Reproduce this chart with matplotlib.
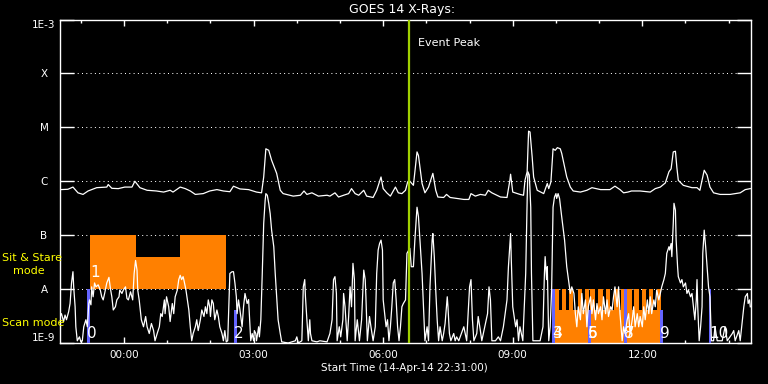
import matplotlib
matplotlib.use("Agg")
import matplotlib.pyplot as plt
import matplotlib.dates as mdates
import numpy as np
from datetime import datetime

# ---------------- data ----------------
start_time = datetime(2014, 4, 14, 22, 31)
span_minutes = 960
event_peak = datetime(2014, 4, 15, 6, 36)

# GOES long channel (1-8 A): (minutes after start, flux W/m^2)
long_pts = [(1,7.0e-7),(11,7.1e-7),(18,7.8e-7),(25,6.1e-7),(32,5.7e-7),(39,6.6e-7),(51,7.6e-7),(65,7.8e-7),(67,8.7e-7),(72,7.4e-7),(81,7.3e-7),(90,7.8e-7),(100,7.8e-7),(104,1.0e-6),(111,7.6e-7),(121,6.8e-7),(134,6.6e-7),(144,6.3e-7),(153,6.8e-7),(157,6.3e-7),(167,7.8e-7),(174,7.3e-7),(181,6.6e-7),(188,5.7e-7),(199,5.9e-7),(208,6.6e-7),(218,7.0e-7),(227,6.6e-7),(236,6.4e-7),(241,8.1e-7),(250,7.2e-7),(262,7.0e-7),(273,6.3e-7),(280,6.1e-7),(283,1.2e-6),(286,4.0e-6),(290,3.75e-6),(294,2.45e-6),(301,1.4e-6),(306,6.8e-7),(310,5.9e-7),(324,5.3e-7),(334,5.5e-7),(339,6.6e-7),(343,5.7e-7),(350,6.1e-7),(359,5.3e-7),(371,5.5e-7),(375,5.3e-7),(382,6.1e-7),(387,5.1e-7),(394,5.5e-7),(401,5.9e-7),(405,7.3e-7),(410,5.9e-7),(415,5.5e-7),(422,6.8e-7),(426,5.3e-7),(435,5.0e-7),(440,6.8e-7),(446,1.2e-6),(449,7.3e-7),(454,6.1e-7),(459,5.3e-7),(466,7.8e-7),(470,6.1e-7),(475,5.9e-7),(480,6.8e-7),(483,9.7e-7),(485,1.04e-6),(491,8.4e-7),(496,3.5e-6),(498,3.0e-6),(503,9.1e-7),(507,6.1e-7),(512,7.8e-7),(518,1.4e-6),(522,6.8e-7),(525,5.1e-7),(533,5.0e-7),(537,5.7e-7),(542,5.0e-7),(551,4.8e-7),(561,4.6e-7),(568,4.6e-7),(571,5.9e-7),(577,5.3e-7),(584,5.7e-7),(591,5.5e-7),(595,6.8e-7),(600,6.1e-7),(612,5.1e-7),(621,5.0e-7),(625,1.04e-6),(626,1.35e-6),(629,6.3e-7),(639,5.7e-7),(644,5.5e-7),(646,1.04e-6),(649,1.5e-6),(651,8.5e-6),(653,8.2e-6),(656,2.8e-6),(658,1.2e-6),(663,6.8e-7),(672,5.9e-7),(677,9.1e-7),(679,7.3e-7),(682,9.7e-7),(685,4.0e-6),(688,3.75e-6),(691,4.2e-6),(695,4.0e-6),(697,3.3e-6),(704,1.2e-6),(709,7.8e-7),(713,6.6e-7),(723,6.3e-7),(732,6.8e-7),(739,7.6e-7),(751,7.0e-7),(764,7.0e-7),(771,8.1e-7),(778,7.0e-7),(783,6.1e-7),(789,6.3e-7),(794,6.6e-7),(806,6.6e-7),(820,6.3e-7),(827,7.3e-7),(834,7.8e-7),(841,9.3e-7),(846,1.5e-6),(849,1.7e-6),(852,3.5e-6),(855,3.6e-6),(857,1.8e-6),(859,1.04e-6),(866,8.4e-7),(878,7.6e-7),(885,7.6e-7),(889,6.8e-7),(892,1.04e-6),(895,1.6e-6),(899,1.3e-6),(903,7.8e-7),(908,6.1e-7),(917,5.7e-7),(931,5.7e-7),(945,6.1e-7),(952,7.0e-7),(959,7.3e-7)]

# GOES short channel (0.5-4 A): (minutes after start, flux W/m^2)
short_pts = [(0,3.1e-9),(2,3.5e-9),(5,2.5e-9),(7,3.3e-9),(9,2.7e-9),(12,3.8e-9),(14,5.4e-9),(16,1.3e-8),(18,2.1e-8),(19,1.1e-8),(21,4.7e-9),(22,2.0e-9),(24,1.1e-9),(27,1.3e-9),(29,1.05e-9),(31,1.1e-9),(33,2.0e-9),(36,2.7e-9),(38,2.0e-9),(40,5.4e-9),(41,6.3e-9),(43,5.1e-9),(44,1.1e-8),(46,7.2e-9),(48,1.3e-8),(50,1.1e-8),(53,1.2e-8),(56,9.6e-9),(58,7.2e-9),(60,6.3e-9),(62,8.3e-9),(65,1.3e-8),(68,1.65e-8),(70,1.03e-8),(72,7.2e-9),(74,4.1e-9),(77,4.7e-9),(79,6.3e-9),(82,7.2e-9),(83,9.6e-9),(86,8.3e-9),(88,9.6e-9),(91,1.1e-8),(93,6.7e-9),(95,6.3e-9),(98,8.9e-9),(101,6.3e-9),(103,1.95e-8),(105,3.4e-8),(107,2.25e-8),(108,9.6e-9),(110,6.3e-9),(113,2.7e-9),(116,2.0e-9),(119,3.1e-9),(121,2.0e-9),(124,1.5e-9),(127,2.3e-9),(130,1.7e-9),(132,1.1e-9),(135,1.5e-9),(138,2.0e-9),(140,3.5e-9),(142,3.1e-9),(145,6.3e-9),(146,3.5e-9),(148,7.2e-9),(151,4.7e-9),(153,2.5e-9),(156,5.4e-9),(158,3.5e-9),(160,7.2e-9),(163,9.6e-9),(165,1.5e-8),(167,1.8e-8),(169,1.5e-8),(171,1.7e-8),(172,1.5e-8),(175,9.6e-9),(177,6.3e-9),(179,4.1e-9),(181,2.0e-9),(183,1.1e-9),(185,1.5e-9),(188,2.0e-9),(190,2.7e-9),(192,1.7e-9),(195,2.7e-9),(197,4.1e-9),(200,3.1e-9),(202,4.7e-9),(204,3.5e-9),(206,6.3e-9),(208,4.7e-9),(209,3.1e-9),(211,6.3e-9),(213,5.4e-9),(215,2.7e-9),(218,4.1e-9),(220,3.1e-9),(222,2.0e-9),(225,1.5e-9),(227,1.1e-9),(229,1.7e-9),(231,1.05e-9),(233,1.1e-9),(236,1.95e-8),(239,2.1e-8),(241,2.1e-8),(243,1.3e-8),(245,7.2e-9),(246,3.5e-9),(248,6.3e-9),(250,4.1e-9),(253,2.0e-9),(255,4.7e-9),(257,8.3e-9),(259,6.3e-9),(260,5.4e-9),(262,6.4e-9),(263,3.5e-9),(265,1.1e-9),(267,1.5e-9),(269,1.1e-9),(270,1.7e-9),(272,1.5e-9),(273,1.1e-9),(276,2.0e-9),(277,1.3e-9),(279,2.7e-9),(281,1.95e-8),(283,1.65e-7),(285,4.4e-7),(286,5.9e-7),(288,5.5e-7),(290,3.9e-7),(292,2.5e-7),(294,1.24e-7),(297,6.1e-8),(299,1.95e-8),(301,7.2e-9),(303,2.7e-9),(306,1.5e-9),(308,1.05e-9),(317,1.0e-9),(327,1.1e-9),(329,1.3e-9),(331,1.0e-9),(336,1.1e-9),(338,1.1e-8),(340,1.5e-8),(341,7.2e-9),(343,2.7e-9),(345,1.1e-9),(347,2.7e-9),(348,1.5e-9),(350,1.1e-9),(357,1.05e-9),(361,1.1e-9),(371,1.05e-9),(375,1.5e-9),(378,2.7e-9),(380,1.5e-8),(382,1.7e-8),(384,8.3e-9),(385,1.1e-9),(388,2.0e-9),(390,1.3e-9),(393,2.7e-9),(394,8.3e-9),(396,4.7e-9),(399,1.1e-9),(401,3.1e-9),(403,1.1e-8),(405,4.7e-9),(407,3.0e-8),(409,1.5e-8),(410,1.1e-9),(413,2.7e-9),(416,1.1e-9),(419,2.7e-9),(422,2.25e-8),(424,1.5e-8),(425,7.2e-9),(427,1.1e-9),(430,3.1e-9),(432,2.0e-9),(435,1.1e-9),(438,2.0e-9),(440,1.95e-8),(442,5.3e-8),(444,7.0e-8),(446,8.1e-8),(448,5.3e-8),(449,6.3e-9),(451,3.5e-9),(453,2.0e-9),(455,2.7e-9),(457,1.1e-9),(459,2.0e-9),(461,4.7e-9),(463,1.3e-8),(465,1.5e-8),(467,6.3e-9),(469,2.0e-9),(471,1.1e-9),(473,2.0e-9),(475,4.7e-9),(477,5.4e-9),(480,6.3e-9),(482,4.6e-8),(486,5.7e-8),(488,2.6e-8),(491,2.6e-8),(493,8.1e-8),(496,3.3e-7),(498,2.2e-7),(500,8.1e-8),(503,1.95e-8),(505,4.7e-9),(507,1.1e-9),(510,2.0e-9),(512,1.1e-9),(514,1.1e-8),(517,8.1e-8),(518,1.07e-7),(520,4.0e-8),(522,9.6e-9),(524,2.7e-9),(526,1.1e-9),(528,2.0e-9),(531,1.1e-9),(533,1.5e-9),(535,2.3e-9),(538,7.2e-9),(539,4.7e-9),(541,1.5e-9),(543,1.1e-9),(547,1.5e-9),(549,1.1e-9),(551,1.3e-9),(554,1.1e-9),(561,2.0e-9),(565,1.1e-9),(569,1.1e-8),(571,1.5e-8),(573,2.7e-9),(575,1.1e-9),(579,1.5e-9),(581,3.1e-9),(584,1.7e-9),(586,1.1e-9),(594,3.5e-9),(596,1.1e-8),(598,6.3e-9),(600,1.1e-9),(605,1.1e-9),(609,1.3e-9),(612,1.1e-9),(616,2.0e-9),(621,6.3e-9),(623,2.6e-8),(626,1.07e-7),(627,3.4e-8),(629,4.7e-9),(631,3.1e-9),(633,2.0e-9),(635,2.7e-9),(637,1.1e-9),(639,2.0e-9),(643,1.1e-9),(645,4.7e-9),(647,1.95e-8),(649,4.4e-7),(650,1.5e-6),(652,1.3e-6),(654,3.3e-7),(655,1.95e-8),(657,1.1e-9),(663,1.1e-9),(667,1.1e-9),(671,2.0e-9),(673,1.95e-8),(674,4.0e-8),(676,1.5e-8),(677,2.6e-8),(679,1.1e-9),(681,2.0e-9),(683,9.6e-9),(685,3.3e-7),(687,5.1e-7),(689,5.9e-7),(690,4.8e-7),(692,5.9e-7),(694,4.8e-7),(697,2.2e-7),(701,8.1e-8),(704,2.6e-8),(707,1.3e-8),(709,8.3e-9),(711,1.1e-8),(714,8.3e-9),(716,3.5e-9),(718,2.0e-9),(720,4.7e-9),(723,2.7e-9),(725,8.3e-9),(727,3.5e-9),(730,6.3e-9),(732,2.0e-9),(734,4.7e-9),(737,7.2e-9),(739,3.5e-9),(741,6.3e-9),(744,2.7e-9),(746,5.4e-9),(748,3.5e-9),(751,4.7e-9),(753,2.7e-9),(755,7.2e-9),(758,3.5e-9),(760,6.3e-9),(762,3.1e-9),(765,4.7e-9),(767,4.1e-9),(769,7.2e-9),(771,1.1e-8),(774,4.7e-9),(776,1.1e-8),(778,3.5e-9),(781,1.1e-9),(783,2.0e-9),(785,1.5e-9),(788,2.7e-9),(790,3.5e-9),(792,1.5e-9),(795,2.7e-9),(797,4.7e-9),(799,2.0e-9),(802,3.5e-9),(804,2.0e-9),(806,3.1e-9),(809,2.0e-9),(811,4.7e-9),(813,2.7e-9),(816,6.3e-9),(818,3.5e-9),(820,7.2e-9),(822,3.5e-9),(825,6.3e-9),(827,4.7e-9),(829,9.6e-9),(832,6.3e-9),(834,8.3e-9),(836,1.1e-8),(839,1.5e-8),(841,1.95e-8),(843,4.6e-8),(846,6.1e-8),(847,5.3e-8),(849,7.0e-8),(850,4.0e-8),(852,1.65e-7),(853,3.9e-7),(855,2.9e-7),(856,8.1e-8),(858,2.6e-8),(859,1.7e-8),(862,1.3e-8),(864,1.5e-8),(866,1.1e-8),(869,1.3e-8),(871,8.3e-9),(873,9.6e-9),(876,7.2e-9),(878,8.3e-9),(880,4.7e-9),(882,2.7e-9),(884,6.3e-9),(885,1.5e-8),(886,4.7e-9),(888,1.1e-9),(890,2.0e-9),(892,4.7e-9),(893,4.6e-8),(895,1.24e-7),(897,6.1e-8),(899,2.6e-8),(901,1.1e-8),(903,7.2e-9),(905,1.1e-9),(908,1.1e-9),(910,2.0e-9),(913,1.1e-9),(920,1.1e-9),(924,2.0e-9),(927,1.1e-9),(934,1.5e-9),(936,1.7e-9),(938,1.1e-9),(943,1.7e-9),(945,1.1e-9),(948,2.7e-9),(950,4.7e-9),(952,7.2e-9),(955,8.3e-9),(956,5.4e-9),(958,6.3e-9),(959,4.7e-9)]

# Sit & Stare observation blocks (minutes after start, flux bottom/top)
ss_start = [42, 42, 167]
ss_end = [231, 106, 231]
ss_low = [1e-8, 4e-8, 4e-8]
ss_high = [4e-8, 1e-7, 1e-7]
ss_labels = ["1"]
ss_label_min = [42]

# Raster (scan) block: base and comb teeth
raster_start, raster_end = 687, 834
raster_low, raster_mid, raster_high = 1e-9, 4.1e-9, 1e-8
tooth_start = [687, 697, 707, 719, 729, 737, 748, 758, 770, 779, 788, 798, 808, 818, 829]
tooth_len = 6

# Scan mode markers
scan_start = [37.5, 242, 684, 733.5, 784, 834, 901]
scan_len = 4
scan_top = [1e-8, 4.1e-9, 1e-8, 4.1e-9, 1e-8, 4.1e-9, 1e-8]
scan_labels = ["0", "2", "3", "4", "5", "6", "7", "8", "9", "10"]
scan_label_min = [38, 242, 684, 684, 734, 734, 784, 784, 834, 902]

y_levels = [1e-9, 1e-8, 1e-7, 1e-6, 1e-5, 1e-4, 1e-3]
y_names = ["1E-9", "A", "B", "C", "M", "X", "1E-3"]
grid_levels = [1e-8, 1e-7, 1e-6, 1e-5, 1e-4]

# ---------------- plotting ----------------
W, H = 768, 384
fig = plt.figure(figsize=(W / 100, H / 100), dpi=100, facecolor="black")
L, R, T, B = 60, 751, 19.5, 343
ax = fig.add_axes([L / W, 1 - B / H, (R - L) / W, (B - T) / H], facecolor="black")

t0 = mdates.date2num(start_time)
def tm(m):
    return t0 + np.asarray(m, dtype=float) / 1440.0

ORANGE = "#ff8000"
BLUE = "#6464ff"
GREEN = "#a0d000"
YELLOW = "#ffff00"

# grid (dotted)
for lv in grid_levels:
    ax.axhline(lv, color="white", lw=0.72, dashes=(1, 3.3), zorder=1)

# sit & stare blocks
for s, e, lo, hi in zip(ss_start, ss_end, ss_low, ss_high):
    ax.bar(tm(s), hi - lo, width=(e - s) / 1440.0, bottom=lo, align="edge",
           color=ORANGE, edgecolor="none", zorder=2)
# raster base + comb
ax.bar(tm(raster_start), raster_mid - raster_low, width=(raster_end - raster_start) / 1440.0,
       bottom=raster_low, align="edge", color=ORANGE, edgecolor="none", zorder=2)
for s in tooth_start:
    ax.bar(tm(s), raster_high - raster_mid, width=tooth_len / 1440.0, bottom=raster_mid,
           align="edge", color=ORANGE, edgecolor="none", zorder=2)
# scan markers
for s, top in zip(scan_start, scan_top):
    ax.bar(tm(s), top - 1e-9, width=scan_len / 1440.0, bottom=1e-9, align="edge",
           color=BLUE, edgecolor="none", zorder=3)

# curves
lm = [p[0] for p in long_pts]; lf = [p[1] for p in long_pts]
sm = [p[0] for p in short_pts]; sf = [p[1] for p in short_pts]
ax.plot(tm(lm), lf, color="white", lw=0.9, zorder=4)
ax.plot(tm(sm), sf, color="white", lw=0.9, zorder=4)

# event peak
tp = mdates.date2num(event_peak)
ax.axvline(tp, color=GREEN, lw=1.6, zorder=5)
ax.annotate("Event Peak", xy=(tp, 1.0), xycoords=("data", "axes fraction"),
            xytext=(6.5, -17), textcoords="offset points", color="white",
            fontsize=8, ha="left", va="center", zorder=6)

# number labels
for lab, m in zip(scan_labels, scan_label_min):
    ax.text(tm(m), 1.25e-9, lab, color="white", fontsize=11, ha="left",
            va="baseline", zorder=6)
for lab, m in zip(ss_labels, ss_label_min):
    ax.text(tm(m), 1.67e-8, lab, color="white", fontsize=11, ha="left",
            va="baseline", zorder=6)

# axes
ax.set_yscale("log")
ax.set_ylim(1e-9, 1e-3)
ax.set_xlim(tm(0), tm(span_minutes))
ax.set_yticks(y_levels)
ax.set_yticklabels([""] * len(y_levels))
ax.yaxis.set_minor_locator(matplotlib.ticker.NullLocator())
ax.tick_params(axis="y", which="major", direction="in", length=10, width=1,
               color="white", left=True, right=True)
ax.xaxis.set_major_locator(mdates.HourLocator(byhour=range(0, 24, 3)))
ax.xaxis.set_minor_locator(mdates.HourLocator())
ax.xaxis.set_major_formatter(mdates.DateFormatter("%H:%M"))
ax.tick_params(axis="x", which="major", direction="in", length=4.3, width=1,
               color="white", top=True, bottom=True, labelcolor="white",
               labelsize=7.5, pad=5)
ax.tick_params(axis="x", which="minor", direction="in", length=2.2, width=1,
               color="white", top=True, bottom=True)
for sp in ax.spines.values():
    sp.set_color("white")
    sp.set_linewidth(1)

ytr = ax.get_yaxis_transform()
xlab = (44 - L) / (R - L)
for lv, nm in zip(y_levels, y_names):
    va = "center_baseline"
    if nm == "1E-3":
        va = "top"
    elif nm == "1E-9":
        va = "bottom"
    ax.text(xlab, lv, nm, transform=ytr, color="white", fontsize=7.5,
            ha="center", va=va, clip_on=False)

# figure texts
fig.text(402 / W, 1 - 10 / H, "GOES 14 X-Rays:", color="white", fontsize=9,
         ha="center", va="center")
fig.text(404 / W, 1 - 368 / H, "Start Time (14-Apr-14 22:31:00)", color="white",
         fontsize=7.5, ha="center", va="center")
fig.text(2 / W, 1 - 258 / H, "Sit & Stare", color=YELLOW, fontsize=8,
         ha="left", va="center")
fig.text(13 / W, 1 - 271 / H, "mode", color=YELLOW, fontsize=8,
         ha="left", va="center")
fig.text(2 / W, 1 - 323.5 / H, "Scan mode", color=YELLOW, fontsize=8,
         ha="left", va="center")

fig.savefig("out.png", dpi=100, facecolor="black")
